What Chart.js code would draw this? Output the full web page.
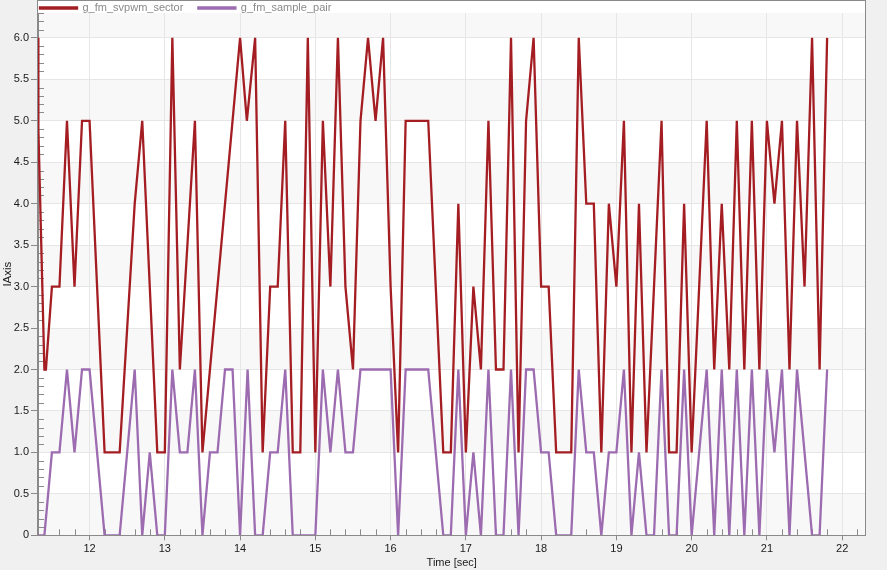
<!DOCTYPE html>
<html><head><meta charset="utf-8">
<script src="https://cdn.jsdelivr.net/npm/chart.js@4.4.1/dist/chart.umd.min.js"></script>
<style>
html,body{margin:0;padding:0;background:#f0f0f0;overflow:hidden;}
#wrap{position:relative;width:887px;height:570px;}
</style></head><body>
<div id="wrap"><canvas id="c"></canvas></div>
<script>
// ---- data ----
const seriesNames = ['g_fm_svpwm_sector', 'g_fm_sample_pair'];
const sectorTimes = [11.315, 11.32, 11.4, 11.42, 11.5, 11.6, 11.7, 11.8, 11.9, 12.0, 12.2, 12.4, 12.5, 12.6, 12.7, 12.9, 13.0, 13.1, 13.2, 13.4, 13.5, 14.0, 14.09, 14.2, 14.3, 14.4, 14.5, 14.6, 14.7, 14.8, 14.9, 15.0, 15.1, 15.2, 15.3, 15.4, 15.5, 15.6, 15.7, 15.8, 15.9, 16.0, 16.1, 16.2, 16.5, 16.7, 16.8, 16.9, 17.0, 17.1, 17.2, 17.3, 17.4, 17.5, 17.6, 17.7, 17.8, 17.9, 18.0, 18.1, 18.2, 18.4, 18.5, 18.6, 18.7, 18.8, 18.9, 19.0, 19.1, 19.2, 19.3, 19.4, 19.6, 19.7, 19.8, 19.9, 20.0, 20.2, 20.3, 20.4, 20.5, 20.6, 20.7, 20.8, 20.9, 21.0, 21.1, 21.2, 21.3, 21.4, 21.5, 21.6, 21.7, 21.8];
const sectorValues = [6, 4.9, 2, 2, 3, 3, 5, 3, 5, 5, 1, 1, 2.5, 4, 5, 1, 1, 6, 2, 5, 1, 6, 5, 6, 1, 3, 3, 5, 1, 1, 6, 1, 5, 3, 6, 3, 2, 5, 6, 5, 6, 3, 1, 5, 5, 1, 1, 4, 1, 3, 2, 5, 2, 2, 6, 1, 5, 6, 3, 3, 1, 1, 6, 4, 4, 1, 4, 3, 5, 1, 4, 1, 5, 1, 1, 4, 1, 5, 2, 4, 2, 5, 2, 5, 2, 5, 4, 5, 2, 5, 3, 6, 2, 6];
const pairTimes = [11.315, 11.4, 11.5, 11.6, 11.7, 11.8, 11.9, 12.0, 12.2, 12.4, 12.6, 12.7, 12.8, 12.9, 13.0, 13.1, 13.2, 13.3, 13.4, 13.5, 13.6, 13.7, 13.8, 13.9, 14.0, 14.1, 14.2, 14.3, 14.4, 14.5, 14.6, 14.7, 15.0, 15.1, 15.2, 15.3, 15.4, 15.5, 15.6, 16.0, 16.1, 16.2, 16.5, 16.7, 16.8, 16.9, 17.0, 17.1, 17.2, 17.3, 17.4, 17.5, 17.6, 17.7, 17.8, 17.9, 18.0, 18.1, 18.2, 18.4, 18.5, 18.6, 18.7, 18.8, 18.9, 19.0, 19.1, 19.2, 19.3, 19.4, 19.5, 19.6, 19.7, 19.8, 19.9, 20.0, 20.2, 20.3, 20.4, 20.5, 20.6, 20.7, 20.8, 20.9, 21.0, 21.1, 21.2, 21.3, 21.4, 21.5, 21.6, 21.7, 21.8];
const pairValues = [0, 0, 1, 1, 2, 1, 2, 2, 0, 0, 2, 0, 1, 0, 0, 2, 1, 1, 2, 0, 1, 1, 2, 2, 0, 2, 0, 0, 1, 1, 2, 0, 0, 2, 1, 2, 1, 1, 2, 2, 0, 2, 2, 0, 0, 2, 0, 1, 0, 2, 0, 0, 2, 0, 2, 2, 1, 1, 0, 0, 2, 1, 1, 0, 1, 1, 2, 0, 1, 0, 0, 2, 0, 0, 2, 0, 2, 0, 2, 0, 2, 0, 2, 0, 2, 1, 2, 0, 2, 1, 0, 0, 2];
const xRange = [11.315, 22.31];
const yRange = [0, 6.3];
const xTitle = 'Time [sec]';
const yTitle = 'IAxis';

const toPoints = (xs, ys) => xs.map((x, i) => ({x: x, y: ys[i]}));

const FONT = "'Liberation Sans', Arial, sans-serif";
const AXIS_GRAY = '#8a8a8a';

// alternating horizontal bands, legend strip, frame, minor ticks
const decor = {
  id: 'decor',
  afterLayout(chart) {
    const lg = chart.legend;
    if (lg) { lg.left = chart.chartArea.left + 2 - 15; lg.top = 2.5 - 15; }
  },
  beforeDraw(chart) {
    const {ctx, chartArea: a, scales: {y}} = chart;
    ctx.save();
    ctx.fillStyle = '#ffffff';
    ctx.fillRect(a.left, 0, a.right - a.left, a.top);
    const step = 0.5;
    for (let k = 0; k * step < yRange[1]; k++) {
      const v0 = k * step, v1 = Math.min((k + 1) * step, yRange[1]);
      const p0 = y.getPixelForValue(v0), p1 = y.getPixelForValue(v1);
      ctx.fillStyle = (k % 2 === 0) ? '#f8f8f8' : '#ffffff';
      ctx.fillRect(a.left, p1, a.right - a.left, p0 - p1);
    }
    ctx.restore();
  },
  beforeDatasetsDraw(chart) {
    const {ctx, chartArea: a, scales: {x, y}} = chart;
    ctx.save();
    ctx.strokeStyle = AXIS_GRAY;
    ctx.lineWidth = 1;
    ctx.beginPath();
    for (let i = Math.ceil(xRange[0] * 5); i / 5 <= xRange[1]; i++) {
      if (i % 5 === 0) continue;
      const px = Math.round(x.getPixelForValue(i / 5)) + 0.5;
      ctx.moveTo(px, a.bottom);
      ctx.lineTo(px, a.bottom - 6);
    }
    for (let i = 1; i / 10 <= yRange[1]; i++) {
      if (i % 5 === 0) continue;
      const py = Math.round(y.getPixelForValue(i / 10)) + 0.5;
      ctx.moveTo(a.left, py);
      ctx.lineTo(a.left + 6, py);
    }
    ctx.stroke();
    ctx.restore();
  },
  afterDraw(chart) {
    const {ctx, chartArea: a} = chart;
    ctx.save();
    ctx.strokeStyle = AXIS_GRAY;
    ctx.lineWidth = 1;
    ctx.strokeRect(Math.round(a.left) - 0.5, 0.5, Math.round(a.right - a.left), Math.round(a.bottom) );
    ctx.restore();
  }
};

new Chart(document.getElementById('c'), {
  type: 'line',
  data: {
    datasets: [
      {label: seriesNames[0], data: toPoints(sectorTimes, sectorValues), borderColor: '#a31d22', backgroundColor: '#a31d22', borderWidth: 2.3, pointRadius: 0, tension: 0, fill: false},
      {label: seriesNames[1], data: toPoints(pairTimes, pairValues), borderColor: '#9c6bb0', backgroundColor: '#9c6bb0', borderWidth: 2.3, pointRadius: 0, tension: 0, fill: false}
    ]
  },
  options: {
    responsive: true,
    maintainAspectRatio: false,
    animation: false,
    layout: {padding: {left: 0, right: 21.5, top: 0, bottom: 0}},
    plugins: {
      tooltip: {enabled: false},
      legend: {
        position: 'top', align: 'start', maxHeight: 13,
        labels: {boxWidth: 37, boxHeight: 1, padding: 15, color: '#8a8a8a', font: {family: FONT, size: 11}}
      }
    },
    scales: {
      x: {
        type: 'linear', min: xRange[0], max: xRange[1],
        afterFit(s) { s.height = 34.7; },
        ticks: {stepSize: 1, includeBounds: false, autoSkip: false, maxRotation: 0, padding: 2, color: '#1a1a1a', font: {family: FONT, size: 11},
          callback: v => String(v)},
        grid: {color: '#e6e6e6', tickColor: AXIS_GRAY, tickLength: 5, lineWidth: 1},
        border: {color: AXIS_GRAY, width: 1},
        title: {display: true, text: xTitle, color: '#1a1a1a', font: {family: FONT, size: 11}, padding: {top: 0, bottom: 0}}
      },
      y: {
        type: 'linear', min: yRange[0], max: yRange[1],
        afterFit(s) { s.width = 38; },
        ticks: {stepSize: 0.5, includeBounds: false, autoSkip: false, padding: 2, color: '#1a1a1a', font: {family: FONT, size: 11},
          callback: v => v === 0 ? '0' : v.toFixed(1)},
        grid: {color: '#e6e6e6', tickColor: AXIS_GRAY, tickLength: 7, lineWidth: 1},
        border: {color: AXIS_GRAY, width: 1},
        title: {display: true, text: yTitle, color: '#1a1a1a', font: {family: FONT, size: 11.5}, padding: {top: 1, bottom: 0}}
      }
    }
  },
  plugins: [decor]
});
</script>
</body></html>
